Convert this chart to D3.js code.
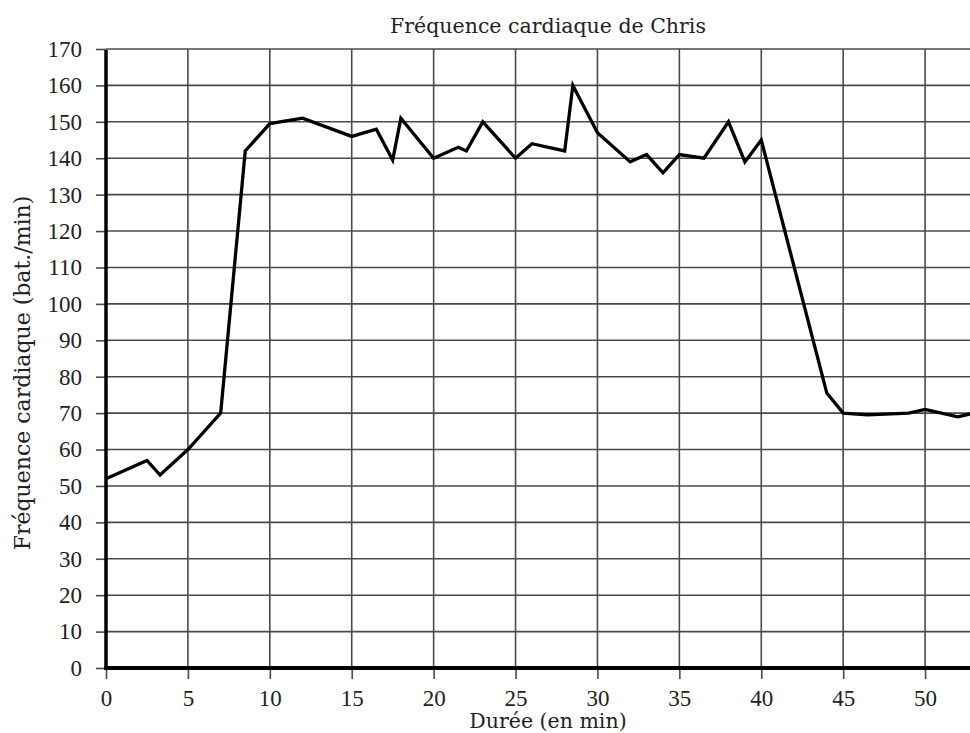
<!DOCTYPE html>
<html><head><meta charset="utf-8">
<script src="https://cdn.jsdelivr.net/npm/d3@7"></script>
<style>html,body{margin:0;padding:0;background:#fff;overflow:hidden}svg{display:block}</style>
</head><body>
<svg id="c" width="970" height="733"></svg>
<script>
const title = "Fréquence cardiaque de Chris";
const xLabel = "Durée (en min)";
const yLabel = "Fréquence cardiaque (bat./min)";
const xTicks = [0,5,10,15,20,25,30,35,40,45,50];
const xGrid = [5,10,15,20,25,30,35,40,45,50,55];
const yTicks = [0,10,20,30,40,50,60,70,80,90,100,110,120,130,140,150,160,170];
const minutes = [0,2.5,3.3,5,7,8.5,10,12,15,16.5,17.5,18,20,21.5,22,23,25,26,28,28.5,30,32,33,34,35,36.5,38,39,40,44,45,46.5,49,50,52,53];
const bpm = [52,57,53,60,70,142,149.5,151,146,148,139.5,151,140,143,142,150,140,144,142,160,147,139,141,136,141,140,150,139,145,75.5,70,69.5,70,71,69,70];

const svg = d3.select("#c");
const x = d3.scaleLinear().domain([0,55]).range([106,1007]);
const y = d3.scaleLinear().domain([0,170]).range([668,49]);
const font = "'Liberation Serif', 'Times New Roman', serif";
const font2 = "'DejaVu Serif', 'Liberation Serif', serif";

// grid
svg.append("g").selectAll("line").data(yTicks.filter(d=>d>0)).join("line")
  .attr("x1",x(0)).attr("x2",x(55)).attr("y1",d=>y(d)).attr("y2",d=>y(d))
  .attr("stroke","#4a4a4a").attr("stroke-width",1.6);
svg.append("g").selectAll("line").data(xGrid).join("line")
  .attr("x1",d=>x(d)).attr("x2",d=>x(d)).attr("y1",y(0)).attr("y2",y(170))
  .attr("stroke","#4a4a4a").attr("stroke-width",1.6);

// axes
const yAxis = d3.axisLeft(y).tickValues(yTicks).tickSize(10).tickPadding(14);
const gy = svg.append("g").attr("transform",`translate(${x(0)},0)`).call(yAxis);
const xAxis = d3.axisBottom(x).tickValues(xTicks).tickSize(11).tickPadding(11);
const gx = svg.append("g").attr("transform",`translate(0,${y(0)})`).call(xAxis);
[gy,gx].forEach(g=>{
  g.select(".domain").remove();
  g.selectAll(".tick line").attr("stroke","#4a4a4a").attr("stroke-width",1.6);
  g.selectAll("text").attr("font-family",font).attr("font-size",23).attr("fill","#222");
});
svg.append("line").attr("x1",x(0)).attr("x2",x(0)).attr("y1",y(0)+2).attr("y2",y(170)+1)
  .attr("stroke","#000").attr("stroke-width",3.5);
svg.append("line").attr("x1",x(0)-1.5).attr("x2",x(55)).attr("y1",y(0)).attr("y2",y(0))
  .attr("stroke","#000").attr("stroke-width",4);

// data line
const line = d3.line().x((d,i)=>x(minutes[i])).y(d=>y(d));
svg.append("path").attr("d",line(bpm)).attr("fill","none")
  .attr("stroke","#000").attr("stroke-width",3.3).attr("stroke-linejoin","miter");

// labels
svg.append("text").attr("x",548).attr("y",33).attr("text-anchor","middle")
  .attr("font-family",font2).attr("font-size",20.5).attr("fill","#222").text(title);
svg.append("text").attr("x",548).attr("y",728).attr("text-anchor","middle")
  .attr("font-family",font2).attr("font-size",20.5).attr("fill","#222").text(xLabel);
svg.append("text").attr("transform","translate(30,373) rotate(-90)").attr("text-anchor","middle")
  .attr("font-family",font2).attr("font-size",22).attr("fill","#222").text(yLabel);
</script>
</body></html>
